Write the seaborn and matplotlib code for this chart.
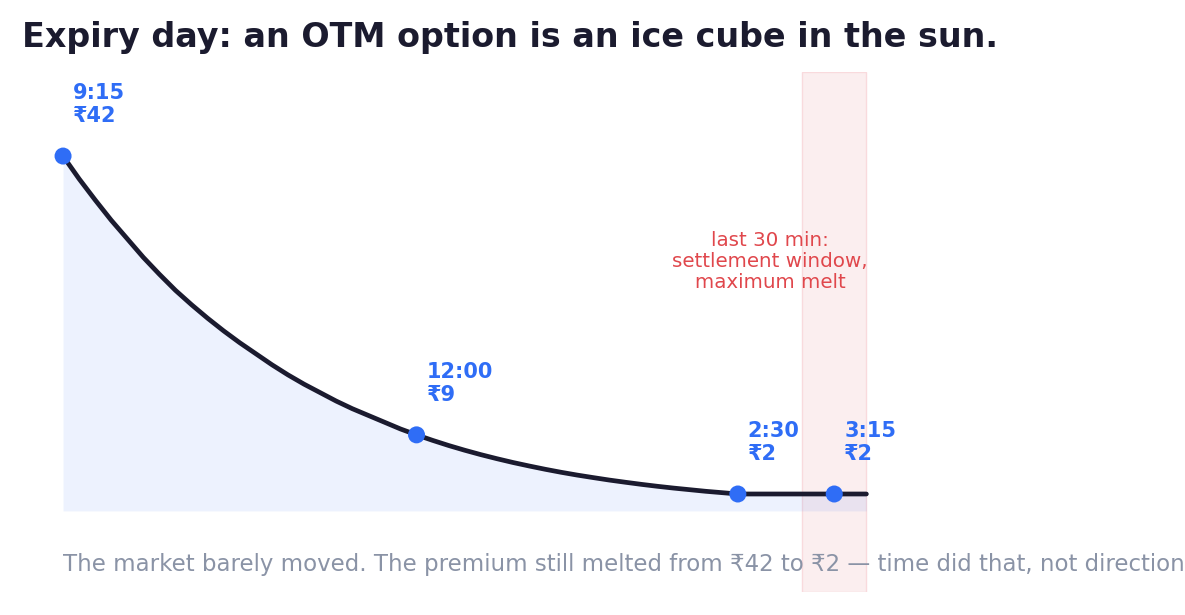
import numpy as np
import pandas as pd
import matplotlib
matplotlib.use("Agg")
import matplotlib.pyplot as plt
import seaborn as sns

# minutes since the 9:15 open, premium in rupees
curve_min = [0, 7.5, 15, 22.5, 30, 37.5, 45, 52.5, 60, 67.5, 75, 82.5, 90,
             97.5, 105, 112.5, 120, 127.5, 135, 142.5, 150, 157.5, 165,
             172.5, 180, 187.5, 195, 202.5, 210, 217.5, 225, 232.5, 240,
             247.5, 255, 262.5, 270, 277.5, 285, 292.5, 300, 307.5, 315,
             330, 345, 360, 375]
curve_val = [42.0, 39.3, 36.8, 34.4, 32.2, 30.0, 28.0, 26.1, 24.4, 22.8,
             21.3, 19.9, 18.6, 17.3, 16.1, 15.0, 14.0, 13.0, 12.1, 11.3,
             10.5, 9.7, 9.0, 8.35, 7.74, 7.18, 6.66, 6.18, 5.73, 5.32, 4.93,
             4.57, 4.24, 3.94, 3.65, 3.39, 3.14, 2.91, 2.70, 2.51, 2.32, 2.16,
             2.0, 2.0, 2.0, 2.0, 2.0]

mark_min = [0, 165, 315, 360]
mark_val = [42, 9, 2, 2]
mark_time = ["9:15", "12:00", "2:30", "3:15"]

window_start, window_end = 345, 375

COLORS = {
    "title": "#1b1b2f",
    "line":  "#1b1b2f",
    "blue":  "#2f6df6",
    "red":   "#e0474c",
    "note":  "#8a93a6",
}

sns.set_theme(style="white")
plt.rcParams["font.family"] = ["DejaVu Sans"]

fig = plt.figure(figsize=(11.85, 6.15), dpi=100)
ax = fig.add_axes([20 / 1185, 23 / 615, 1145 / 1185, 520 / 615])

ax.axvspan(window_start, window_end, facecolor="#fbeeef", edgecolor="#f9dadd",
           lw=1, zorder=0)
ax.fill_between(curve_min, curve_val, 0, color=COLORS["blue"], alpha=0.085,
                lw=0, zorder=1)

curve = pd.DataFrame({"t": curve_min, "v": curve_val})
sns.lineplot(data=curve, x="t", y="v", color=COLORS["line"], lw=3.4, ax=ax,
             zorder=2)

marks = pd.DataFrame({"t": mark_min, "v": mark_val})
sns.scatterplot(data=marks, x="t", y="v", color=COLORS["blue"], s=150,
                edgecolor="none", ax=ax, zorder=3)

for t, v, lab in zip(mark_min, mark_val, mark_time):
    ax.annotate(f"{lab}\n₹{v}", xy=(t, v), xytext=(10, 30),
                textcoords="offset pixels", ha="left", va="bottom",
                fontsize=15, fontweight="bold", color=COLORS["blue"],
                linespacing=1.2)

ax.text(330, 29.5, "last 30 min:\nsettlement window,\nmaximum melt",
        ha="center", va="center", fontsize=14.3, color=COLORS["red"],
        linespacing=1.15)

ax.set_xlim(-20.1, 514.4)
ax.set_ylim(-9.6, 51.95)
ax.set_axis_off()

fig.text(22 / 1185, 1 - 47 / 615,
         "Expiry day: an OTM option is an ice cube in the sun.",
         ha="left", va="baseline", fontsize=24, fontweight="bold",
         color=COLORS["title"])
fig.text(63 / 1185, 1 - 571 / 615,
         "The market barely moved. The premium still melted from ₹42 to ₹2 "
         "— time did that, not direction",
         ha="left", va="baseline", fontsize=16.45, color=COLORS["note"])

fig.savefig("out.png", dpi=100, facecolor="white")
